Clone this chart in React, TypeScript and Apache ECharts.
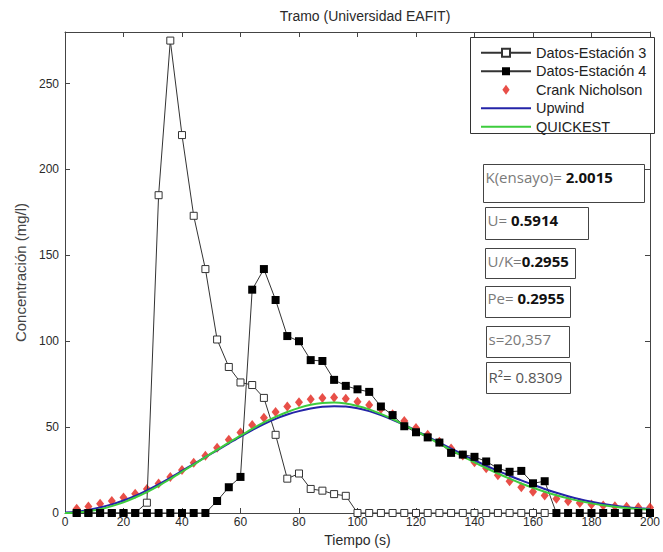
import React, { useEffect, useRef } from "react";
import * as echarts from "echarts";

// Measured tracer concentration at the two stations (time in s, concentration in mg/l)
const timeStation3 = [
  4, 8, 12, 16, 20, 24, 28, 32, 36, 40, 44, 48, 52, 56, 60, 64, 68, 72, 76, 80, 84,
  88, 92, 96, 100, 104, 108, 112, 116, 120, 124, 128, 132, 136, 140, 144, 148, 152,
  156, 160, 164,
];
const concStation3 = [
  0, 0, 0, 0, 0, 0, 6, 185, 275, 220, 173, 142, 101, 85, 76, 74.5, 67, 45.5, 20, 23, 14,
  13, 11, 10, 0, 0, 0, 0, 0, 0, 0, 0, 0, 0, 0, 0, 0, 0,
  0, 0, 0,
];

const timeStation4 = [
  4, 8, 12, 16, 20, 24, 28, 32, 36, 40, 44, 48, 52, 56, 60, 64, 68, 72, 76, 80, 84,
  88, 92, 96, 100, 104, 108, 112, 116, 120, 124, 128, 132, 136, 140, 144, 148, 152,
  156, 160, 164, 168, 172, 176, 180, 184, 188, 192, 196, 200,
];
const concStation4 = [
  0, 0, 0, 0, 0, 0, 0, 0, 0, 0, 0, 0, 7, 15, 21, 130, 142, 124, 103, 100, 89,
  88.5, 77.5, 74, 72, 70.5, 62, 57, 50.5, 47, 44, 41, 35, 34, 32.7, 30, 26, 24,
  24.5, 17.3, 18.5, 0, 0, 0, 0, 0, 0, 0, 0, 0,
];

// Crank Nicholson solution, same time steps as station 4
const concCrankNicholson = [
  2.5, 3.8, 5.4, 7.0, 9.0, 11.2, 14.0, 17.2, 21.0, 25.0, 29.3, 33.3, 38.0, 42.7, 46.8,
  51.2, 55.5, 58.8, 62.0, 64.5, 66.2, 67.0, 67.2, 66.5, 64.8, 62.8, 60.5, 57.5, 53.5,
  49.5, 45.5, 41.5, 37.5, 33.5, 29.5, 26.0, 22.0, 18.5, 15.0, 12.3, 10.2, 8.3, 6.9,
  5.8, 5.0, 4.4, 4.0, 3.7, 3.4, 3.2,
];

// Upwind and QUICKEST solutions
const timeModel = [
  0, 4, 8, 12, 16, 20, 24, 28, 32, 36, 40, 44, 48, 52, 56, 60, 64, 68, 72, 76, 80, 84,
  88, 92, 96, 100, 104, 108, 112, 116, 120, 124, 128, 132, 136, 140, 144, 148, 152,
  156, 160, 164, 168, 172, 176, 180, 184, 188, 192, 196, 200,
];
const concUpwind = [
  0.3, 0.8, 1.8, 3.2, 5.0, 7.3, 10.0, 13.2, 16.7, 20.5, 24.5, 28.5, 32.5, 36.5, 40.5,
  44.5, 48.3, 51.8, 54.8, 57.3, 59.3, 60.8, 61.8, 62.2, 62.0, 61.0, 59.3, 57.0, 54.3,
  51.3, 48.0, 44.5, 41.0, 37.5, 34.0, 30.7, 27.5, 24.5, 21.7, 19.0, 16.5, 14.0, 11.8,
  9.8, 8.0, 6.5, 5.2, 4.2, 3.4, 2.8, 2.3,
];
const concQuickest = [
  0, 0.3, 1.0, 2.2, 4.0, 6.2, 9.0, 12.2, 15.8, 19.8, 24.0, 28.2, 32.5, 36.8, 41.0,
  45.0, 49.0, 52.7, 56.0, 58.8, 61.2, 63.0, 64.0, 64.3, 63.7, 62.3, 60.3, 57.7, 54.7,
  51.3, 47.8, 44.0, 40.3, 36.6, 33.0, 29.5, 26.2, 23.0, 20.0, 17.2, 14.7, 12.4, 10.3,
  8.5, 6.9, 5.6, 4.5, 3.6, 2.9, 2.4, 2.0,
];

const xTicks = [0, 20, 40, 60, 80, 100, 120, 140, 160, 180, 200];
const yTicks = [0, 50, 100, 150, 200, 250];
const yMax = 280;

const seriesNames = [
  "Datos-Estación 3",
  "Datos-Estación 4",
  "Crank Nicholson",
  "Upwind",
  "QUICKEST",
];

const zip = (xs: number[], ys: number[]) => xs.map((x, i) => [x, ys[i]]);

const FONT = "Liberation Sans";
const BOX_FONT = "Open Sans";
const axisColor = "#444";
const textColor = "#2a2a2a";

const colorUpwind = "#2424a8";
const colorQuickest = "#3dcc3d";
const colorCrank = "#e2231a";

// Legend icons: thin line for the model curves, narrow diamond for the scatter
const lineIcon = "path://M0,0M50,10M0,4H50V6H0Z";
const diamondIcon = "path://M0,0M50,10M25,-0.5L29,5L25,10.5L21,5Z";

function xAxisDef(pos: "bottom" | "top", main: boolean) {
  return {
    type: "value",
    position: pos,
    min: xTicks[0],
    max: xTicks[xTicks.length - 1],
    interval: xTicks[1] - xTicks[0],
    axisLine: { show: true, onZero: false, lineStyle: { color: axisColor, width: 1 } },
    axisTick: { show: true, inside: true, length: 5, lineStyle: { color: axisColor } },
    axisLabel: {
      show: main,
      color: textColor,
      fontSize: 12,
      fontFamily: FONT,
      margin: 3,
    },
    splitLine: { show: false },
    name: main ? "Tiempo (s)" : "",
    nameLocation: "middle",
    nameGap: 20,
    nameTextStyle: { color: textColor, fontSize: 14, fontFamily: FONT },
  };
}

function yAxisDef(pos: "left" | "right", main: boolean) {
  return {
    type: "value",
    position: pos,
    min: 0,
    max: yMax,
    axisLine: { show: true, onZero: false, lineStyle: { color: axisColor, width: 1 } },
    axisTick: {
      show: true,
      inside: true,
      length: 5,
      customValues: yTicks,
      lineStyle: { color: axisColor },
    },
    axisLabel: {
      show: main,
      customValues: yTicks,
      color: textColor,
      fontSize: 12,
      fontFamily: FONT,
      margin: 6,
    },
    splitLine: { show: false },
    name: main ? "Concentración (mg/l)" : "",
    nameLocation: "middle",
    nameGap: 34,
    nameTextStyle: { color: "#444", fontSize: 15, fontFamily: FONT },
  };
}

// Parameter boxes on the right side of the plot
const paramBoxes = [
  { x: 483.5, y: 164.5, w: 161, h: 38, ty: 177, text: "{a|K(ensayo)= }{b|2.0015}" },
  { x: 485.5, y: 207.5, w: 103, h: 32, ty: 220, text: "{a|U= }{b|0.5914}" },
  { x: 485.5, y: 248.5, w: 90, h: 30, ty: 261, text: "{a|U/K=}{b|0.2955}" },
  { x: 485.5, y: 286.5, w: 85, h: 31, ty: 298, text: "{a|Pe= }{b|0.2955}" },
  { x: 486.5, y: 326.5, w: 83, h: 31, ty: 339, text: "{a|s=20,357}" },
  { x: 486.5, y: 362.5, w: 84, h: 31, ty: 377, text: "{c|R²= 0.8309}" },
];

const richStyles = {
  a: { fontFamily: BOX_FONT, fontSize: 15, fill: "#7a7a7a" },
  b: { fontFamily: BOX_FONT, fontSize: 15, fontWeight: "bold", fill: "#111" },
  c: { fontFamily: BOX_FONT, fontSize: 15, fill: "#555" },
};

export default function App() {
  const ref = useRef<HTMLDivElement>(null);

  useEffect(() => {
    document.body.style.margin = "0";
    const chart = echarts.init(ref.current!, null, { renderer: "svg" });

    const graphic: any[] = [
      {
        type: "rect",
        z: 3,
        shape: { x: 470.5, y: 37.5, width: 184, height: 96 },
        style: { fill: "#fff", stroke: "#333", lineWidth: 1 },
      },
    ];
    paramBoxes.forEach((b) => {
      graphic.push({
        type: "rect",
        z: 3,
        shape: { x: b.x, y: b.y, width: b.w, height: b.h },
        style: { fill: "#fff", stroke: "#444", lineWidth: 1 },
      });
      graphic.push({
        type: "text",
        z: 4,
        x: b.x + 2,
        y: b.ty,
        style: {
          text: b.text,
          rich: richStyles,
          verticalAlign: "middle",
          align: "left",
        },
      });
    });

    chart.setOption({
      animation: false,
      backgroundColor: "#fff",
      title: {
        text: "Tramo (Universidad EAFIT)",
        left: 360,
        top: 4,
        textAlign: "center",
        textStyle: { fontSize: 14, fontWeight: "normal", color: textColor, fontFamily: FONT },
      },
      grid: { left: 65, right: 7, top: 32, bottom: 36, containLabel: false },
      xAxis: [xAxisDef("bottom", true), xAxisDef("top", false)],
      yAxis: [yAxisDef("left", true), yAxisDef("right", false)],
      legend: {
        orient: "vertical",
        left: 475,
        top: 40,
        itemWidth: 50,
        itemHeight: 10,
        itemGap: 3,
        z: 5,
        data: [
          { name: seriesNames[0] },
          { name: seriesNames[1] },
          { name: seriesNames[2], icon: diamondIcon },
          { name: seriesNames[3], icon: lineIcon },
          { name: seriesNames[4], icon: lineIcon },
        ],
        textStyle: {
          fontSize: 14.5,
          lineHeight: 15.5,
          color: "#222",
          fontFamily: FONT,
        },
      },
      graphic,
      series: [
        {
          name: seriesNames[0],
          type: "line",
          data: zip(timeStation3, concStation3),
          symbol: "rect",
          symbolSize: 7,
          showAllSymbol: true,
          itemStyle: { color: "#fff", borderColor: "#333", borderWidth: 1 },
          lineStyle: { color: "#333", width: 1 },
        },
        {
          name: seriesNames[1],
          type: "line",
          data: zip(timeStation4, concStation4),
          symbol: "rect",
          symbolSize: 8,
          showAllSymbol: true,
          itemStyle: { color: "#000" },
          lineStyle: { color: "#333", width: 1 },
        },
        {
          name: seriesNames[2],
          type: "scatter",
          data: zip(timeStation4, concCrankNicholson),
          symbol: "diamond",
          symbolSize: [8, 10],
          itemStyle: { color: colorCrank },
        },
        {
          name: seriesNames[3],
          type: "line",
          data: zip(timeModel, concUpwind),
          symbol: "none",
          smooth: 0.3,
          lineStyle: { color: colorUpwind, width: 2 },
          itemStyle: { color: colorUpwind },
        },
        {
          name: seriesNames[4],
          type: "line",
          data: zip(timeModel, concQuickest),
          symbol: "none",
          smooth: 0.3,
          lineStyle: { color: colorQuickest, width: 2 },
          itemStyle: { color: colorQuickest },
        },
      ],
    });

    return () => chart.dispose();
  }, []);

  return (
    <div
      ref={ref}
      style={{ position: "absolute", left: 0, top: 0, width: 663, height: 552 }}
    />
  );
}
